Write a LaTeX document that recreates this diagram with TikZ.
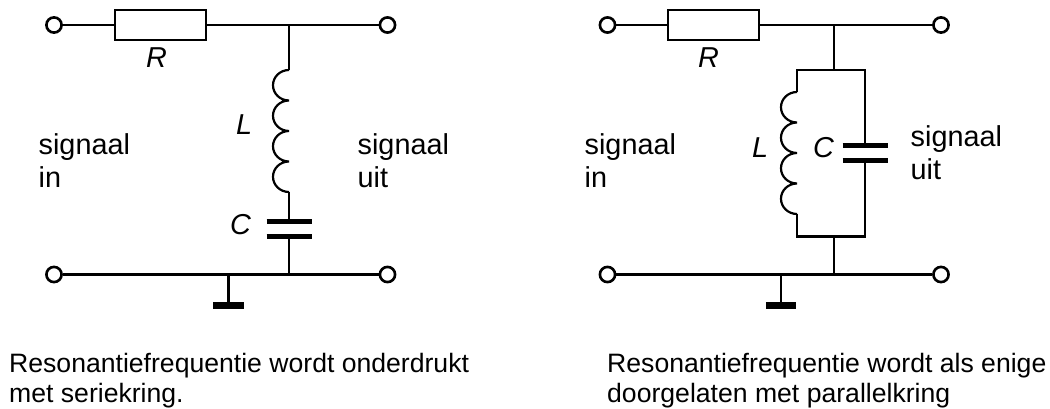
\documentclass[tikz,border=0pt]{standalone}
\usepackage{fontspec}
\setmainfont{Liberation Sans}
\tikzset{
  x=1pt,y=-1pt,
  wire/.style={line width=2.2pt,line cap=butt,line join=miter},
  coil/.style={line width=2.2pt},
  term/.style={circle,draw,line width=2.6pt,fill=white,minimum size=15.2pt,inner sep=0pt},
  plate/.style={line width=5pt},
  earth/.style={line width=7pt},
  body/.style={draw,line width=2.2pt,fill=white,minimum width=91pt,minimum height=30pt,inner sep=0pt},
  lab/.style={font=\fontsize{28.8pt}{32pt}\selectfont,anchor=base west,inner sep=0pt,align=left},
  ital/.style={font=\fontsize{28.8pt}{32pt}\selectfont\itshape,anchor=base west,inner sep=0pt},
  captxt/.style={font=\fontsize{26.6pt}{30pt}\selectfont,anchor=base west,inner sep=0pt},
  bump/.style={start angle=90,end angle=270,x radius=16pt,y radius=15.25pt}
}
\begin{document}
\begin{tikzpicture}
\useasboundingbox (0,0) rectangle (1050,409);
% left circuit
\coordinate (jt) at (289,25);
\coordinate (ct) at (289,70);
\coordinate (lb) at (289,192);
\coordinate (pa) at (289,221.5);
\coordinate (pb) at (289,236.5);
\coordinate (jb) at (289,274.5);
\coordinate (g) at (228.5,274.5);
\coordinate (gb) at (228.5,305);
\node[term] (a1) at (54,25) {};
\node[term] (a2) at (387.5,25) {};
\node[term] (a3) at (54,274.5) {};
\node[term] (a4) at (387.5,274.5) {};
\node[body] (r1) at (160.5,25) {};
\draw[wire] (a1) -- (r1) (r1) -- (a2);
\draw[wire] (a3) -- (a4);
\draw[wire] (jt) -- (ct);
\draw[coil] (ct) arc[bump] arc[bump] arc[bump] arc[bump];
\draw[wire] (lb) -- (pa) (pb) -- (jb) (g) -- (gb);
\draw[plate] ([xshift=-22.5pt]pa) -- ([xshift=22.5pt]pa);
\draw[plate] ([xshift=-22.5pt]pb) -- ([xshift=22.5pt]pb);
\draw[earth] ([xshift=-15.2pt]gb) -- ([xshift=15.2pt]gb);
% right circuit
\coordinate (jt2) at (834,25);
\coordinate (bt) at (834,70);
\coordinate (btl) at (797,70);
\coordinate (btr) at (865,70);
\coordinate (lt2) at (797,92);
\coordinate (lb2) at (797,214);
\coordinate (pa2) at (865,145.7);
\coordinate (pb2) at (865,161);
\coordinate (bbl) at (797,236.5);
\coordinate (bbr) at (865,236.5);
\coordinate (bb) at (834,236.5);
\coordinate (jb2) at (834,274.5);
\coordinate (g2) at (781,274.5);
\coordinate (gb2) at (781,305);
\node[term] (b1) at (607.5,25) {};
\node[term] (b2) at (941,25) {};
\node[term] (b3) at (607.5,274.5) {};
\node[term] (b4) at (941,274.5) {};
\node[body] (r2) at (713.5,25) {};
\draw[wire] (b1) -- (r2) (r2) -- (b2);
\draw[wire] (b3) -- (b4);
\draw[wire] (jt2) -- (bt);
\draw[wire] (lt2) -- (btl) -- (btr) -- (pa2);
\draw[coil] (lt2) arc[bump] arc[bump] arc[bump] arc[bump];
\draw[wire] (lb2) -- (bbl) -- (bbr) -- (pb2);
\draw[wire] (bb) -- (jb2) (g2) -- (gb2);
\draw[plate] ([xshift=-22.5pt]pa2) -- ([xshift=22.5pt]pa2);
\draw[plate] ([xshift=-22.5pt]pb2) -- ([xshift=22.5pt]pb2);
\draw[earth] ([xshift=-15.2pt]gb2) -- ([xshift=15.2pt]gb2);
% labels
\node[ital] (tr1) at (146,68) {R};
\node[ital] (tl1) at (236,135) {L};
\node[ital] (tc1) at (230,234) {C};
\node[lab] (ts1) at (38.5,155) {signaal};
\node[lab] (ti1) at (38.5,187) {in};
\node[lab] (tu1) at (357.5,155) {signaal};
\node[lab] (tv1) at (357.5,187) {uit};
\node[ital] (tr2) at (698,68) {R};
\node[ital] (tl2) at (752,158) {L};
\node[ital] (tc2) at (813,158) {C};
\node[lab] (ts2) at (584.5,155) {signaal};
\node[lab] (ti2) at (584.5,187) {in};
\node[lab] (tu2) at (910.5,147) {signaal};
\node[lab] (tv2) at (910.5,179.5) {uit};
\node[captxt] (c1) at (9,372) {Resonantiefrequentie wordt onderdrukt};
\node[captxt] (c2) at (9,402) {met seriekring.};
\node[captxt] (c3) at (607,372) {Resonantiefrequentie wordt als enige};
\node[captxt] (c4) at (607,402) {doorgelaten met parallelkring};
\end{tikzpicture}
\end{document}
